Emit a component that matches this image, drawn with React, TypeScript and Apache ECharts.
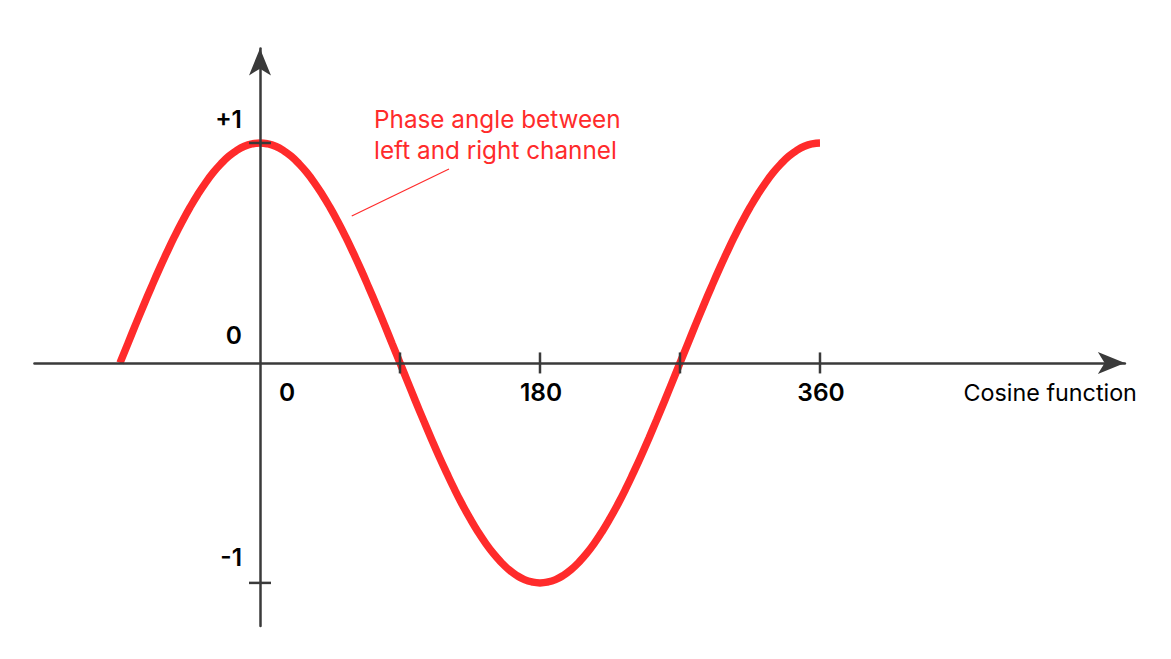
import React, { useEffect, useRef } from "react";
import * as echarts from "echarts";

// Angle (degrees) and cosine value, every 5 degrees
const angles = [
  -90, -85, -80, -75, -70, -65, -60, -55, -50, -45, -40, -35, -30, -25, -20, -15, -10, -5,
  0, 5, 10, 15, 20, 25, 30, 35, 40, 45, 50, 55, 60, 65, 70, 75, 80, 85,
  90, 95, 100, 105, 110, 115, 120, 125, 130, 135, 140, 145, 150, 155, 160, 165, 170, 175,
  180, 185, 190, 195, 200, 205, 210, 215, 220, 225, 230, 235, 240, 245, 250, 255, 260, 265,
  270, 275, 280, 285, 290, 295, 300, 305, 310, 315, 320, 325, 330, 335, 340, 345, 350, 355,
  360,
];
const values = [
  0, 0.087, 0.174, 0.259, 0.342, 0.423, 0.5, 0.574, 0.643, 0.707, 0.766, 0.819, 0.866, 0.906, 0.94, 0.966, 0.985, 0.996,
  1, 0.996, 0.985, 0.966, 0.94, 0.906, 0.866, 0.819, 0.766, 0.707, 0.643, 0.574, 0.5, 0.423, 0.342, 0.259, 0.174, 0.087,
  0, -0.087, -0.174, -0.259, -0.342, -0.423, -0.5, -0.574, -0.643, -0.707, -0.766, -0.819, -0.866, -0.906, -0.94, -0.966, -0.985, -0.996,
  -1, -0.996, -0.985, -0.966, -0.94, -0.906, -0.866, -0.819, -0.766, -0.707, -0.643, -0.574, -0.5, -0.423, -0.342, -0.259, -0.174, -0.087,
  0, 0.087, 0.174, 0.259, 0.342, 0.423, 0.5, 0.574, 0.643, 0.707, 0.766, 0.819, 0.866, 0.906, 0.94, 0.966, 0.985, 0.996,
  1,
];
const xTickValues = [90, 180, 270, 360];
const xLabelValues = [0, 180, 360];
const xLabelText = ["0", "180", "360"];
const yTickValues = [1, -1];
const yLabelValues = [1, 0, -1];
const yLabelText = ["+1", "0", "-1"];
const xAxisName = "Cosine function";
const annotationText = "Phase angle between\nleft and right channel";
// annotation pointer, in data units (angle, value)
const pointerFrom = [59, 0.668];
const pointerTo = [121.5, 0.882];

const RED = "#ff2b2b";
const AXIS = "#3a3a3a";
const INK = "#000000";
const FONT = "Inter, 'Noto Sans', sans-serif";

export default function App() {
  const ref = useRef<HTMLDivElement>(null);
  useEffect(() => {
    if (!ref.current) return;
    const chart = echarts.init(ref.current, null, { renderer: "svg" });
    const curve = angles.map((a, i) => [a, values[i]]);
    const labelStyle = {
      show: true,
      fontFamily: FONT,
      fontSize: 24.5,
      fontWeight: 600,
      color: INK,
      textBorderWidth: 0,
      textBorderColor: "transparent",
    };
    chart.setOption({
      animation: false,
      backgroundColor: "#ffffff",
      grid: {
        left: 34.44,
        top: 48.4,
        width: 1090.44,
        height: 577.5,
        containLabel: false,
        outerBoundsMode: "none",
      },
      graphic: [
        {
          type: "text",
          x: 374,
          y: 103,
          z: 20,
          style: {
            text: annotationText,
            fill: RED,
            font: `400 24.3px ${FONT}`,
            lineHeight: 31,
            textVerticalAlign: "top",
          },
        },
      ],
      xAxis: {
        type: "value",
        min: -145,
        max: 556,
        z: 10,
        splitLine: { show: false },
        axisTick: { show: false },
        axisLabel: { show: false },
        axisLine: {
          onZero: true,
          lineStyle: { color: AXIS, width: 2.5 },
          symbol: ["none", "arrow"],
          symbolSize: [16.5, 27],
        },
        name: xAxisName,
        nameLocation: "end",
        nameGap: 12,
        nameTextStyle: {
          fontFamily: FONT,
          fontSize: 23.3,
          color: INK,
          align: "right",
          verticalAlign: "top",
          padding: [18, 0, 0, 0],
        },
      },
      yAxis: {
        type: "value",
        min: -1.1955,
        max: 1.43,
        z: 10,
        splitLine: { show: false },
        axisTick: { show: false },
        axisLabel: { show: false },
        axisLine: {
          onZero: true,
          lineStyle: { color: AXIS, width: 2.5 },
          symbol: ["none", "arrow"],
          symbolSize: [16.5, 27],
        },
      },
      series: [
        {
          type: "line",
          data: curve,
          smooth: true,
          showSymbol: false,
          symbol: "none",
          z: 2,
          lineStyle: { color: RED, width: 7.5, cap: "butt" },
          markLine: {
            silent: true,
            symbol: ["none", "none"],
            label: { show: false },
            lineStyle: { color: RED, width: 1.2, type: "solid" },
            data: [[{ coord: pointerFrom }, { coord: pointerTo }]],
          },
        },
        {
          type: "scatter",
          data: xTickValues.map((v) => [v, 0]),
          symbol: "rect",
          symbolSize: [2.5, 21],
          itemStyle: { color: AXIS, opacity: 1 },
          z: 12,
          silent: true,
        },
        {
          type: "scatter",
          data: yTickValues.map((v) => [0, v]),
          symbol: "rect",
          symbolSize: [22, 2.5],
          itemStyle: { color: AXIS, opacity: 1 },
          z: 12,
          silent: true,
        },
        {
          // x tick labels
          type: "scatter",
          symbolSize: 0,
          silent: true,
          z: 12,
          itemStyle: { color: INK, opacity: 1 },
          data: xLabelValues.map((v, i) => ({
            value: [v, 0],
            label: {
              ...labelStyle,
              position: [0, 0],
              align: "center",
              verticalAlign: "middle",
              offset: [v === 0 ? 27 : 1, 29],
              formatter: () => xLabelText[i],
            },
          })),
        },
        {
          // y tick labels
          type: "scatter",
          symbolSize: 0,
          silent: true,
          z: 12,
          itemStyle: { color: INK, opacity: 1 },
          data: yLabelValues.map((v, i) => ({
            value: [0, v],
            label: {
              ...labelStyle,
              position: [0, 0],
              align: "right",
              verticalAlign: "middle",
              offset: [-18, v === 1 ? -24 : v === 0 ? -28 : -26],
              formatter: () => yLabelText[i],
            },
          })),
        },
      ],
    });
    return () => chart.dispose();
  }, []);
  return (
    <div
      ref={ref}
      style={{ position: "fixed", left: 0, top: 0, width: 1171, height: 659, background: "#fff" }}
    />
  );
}
